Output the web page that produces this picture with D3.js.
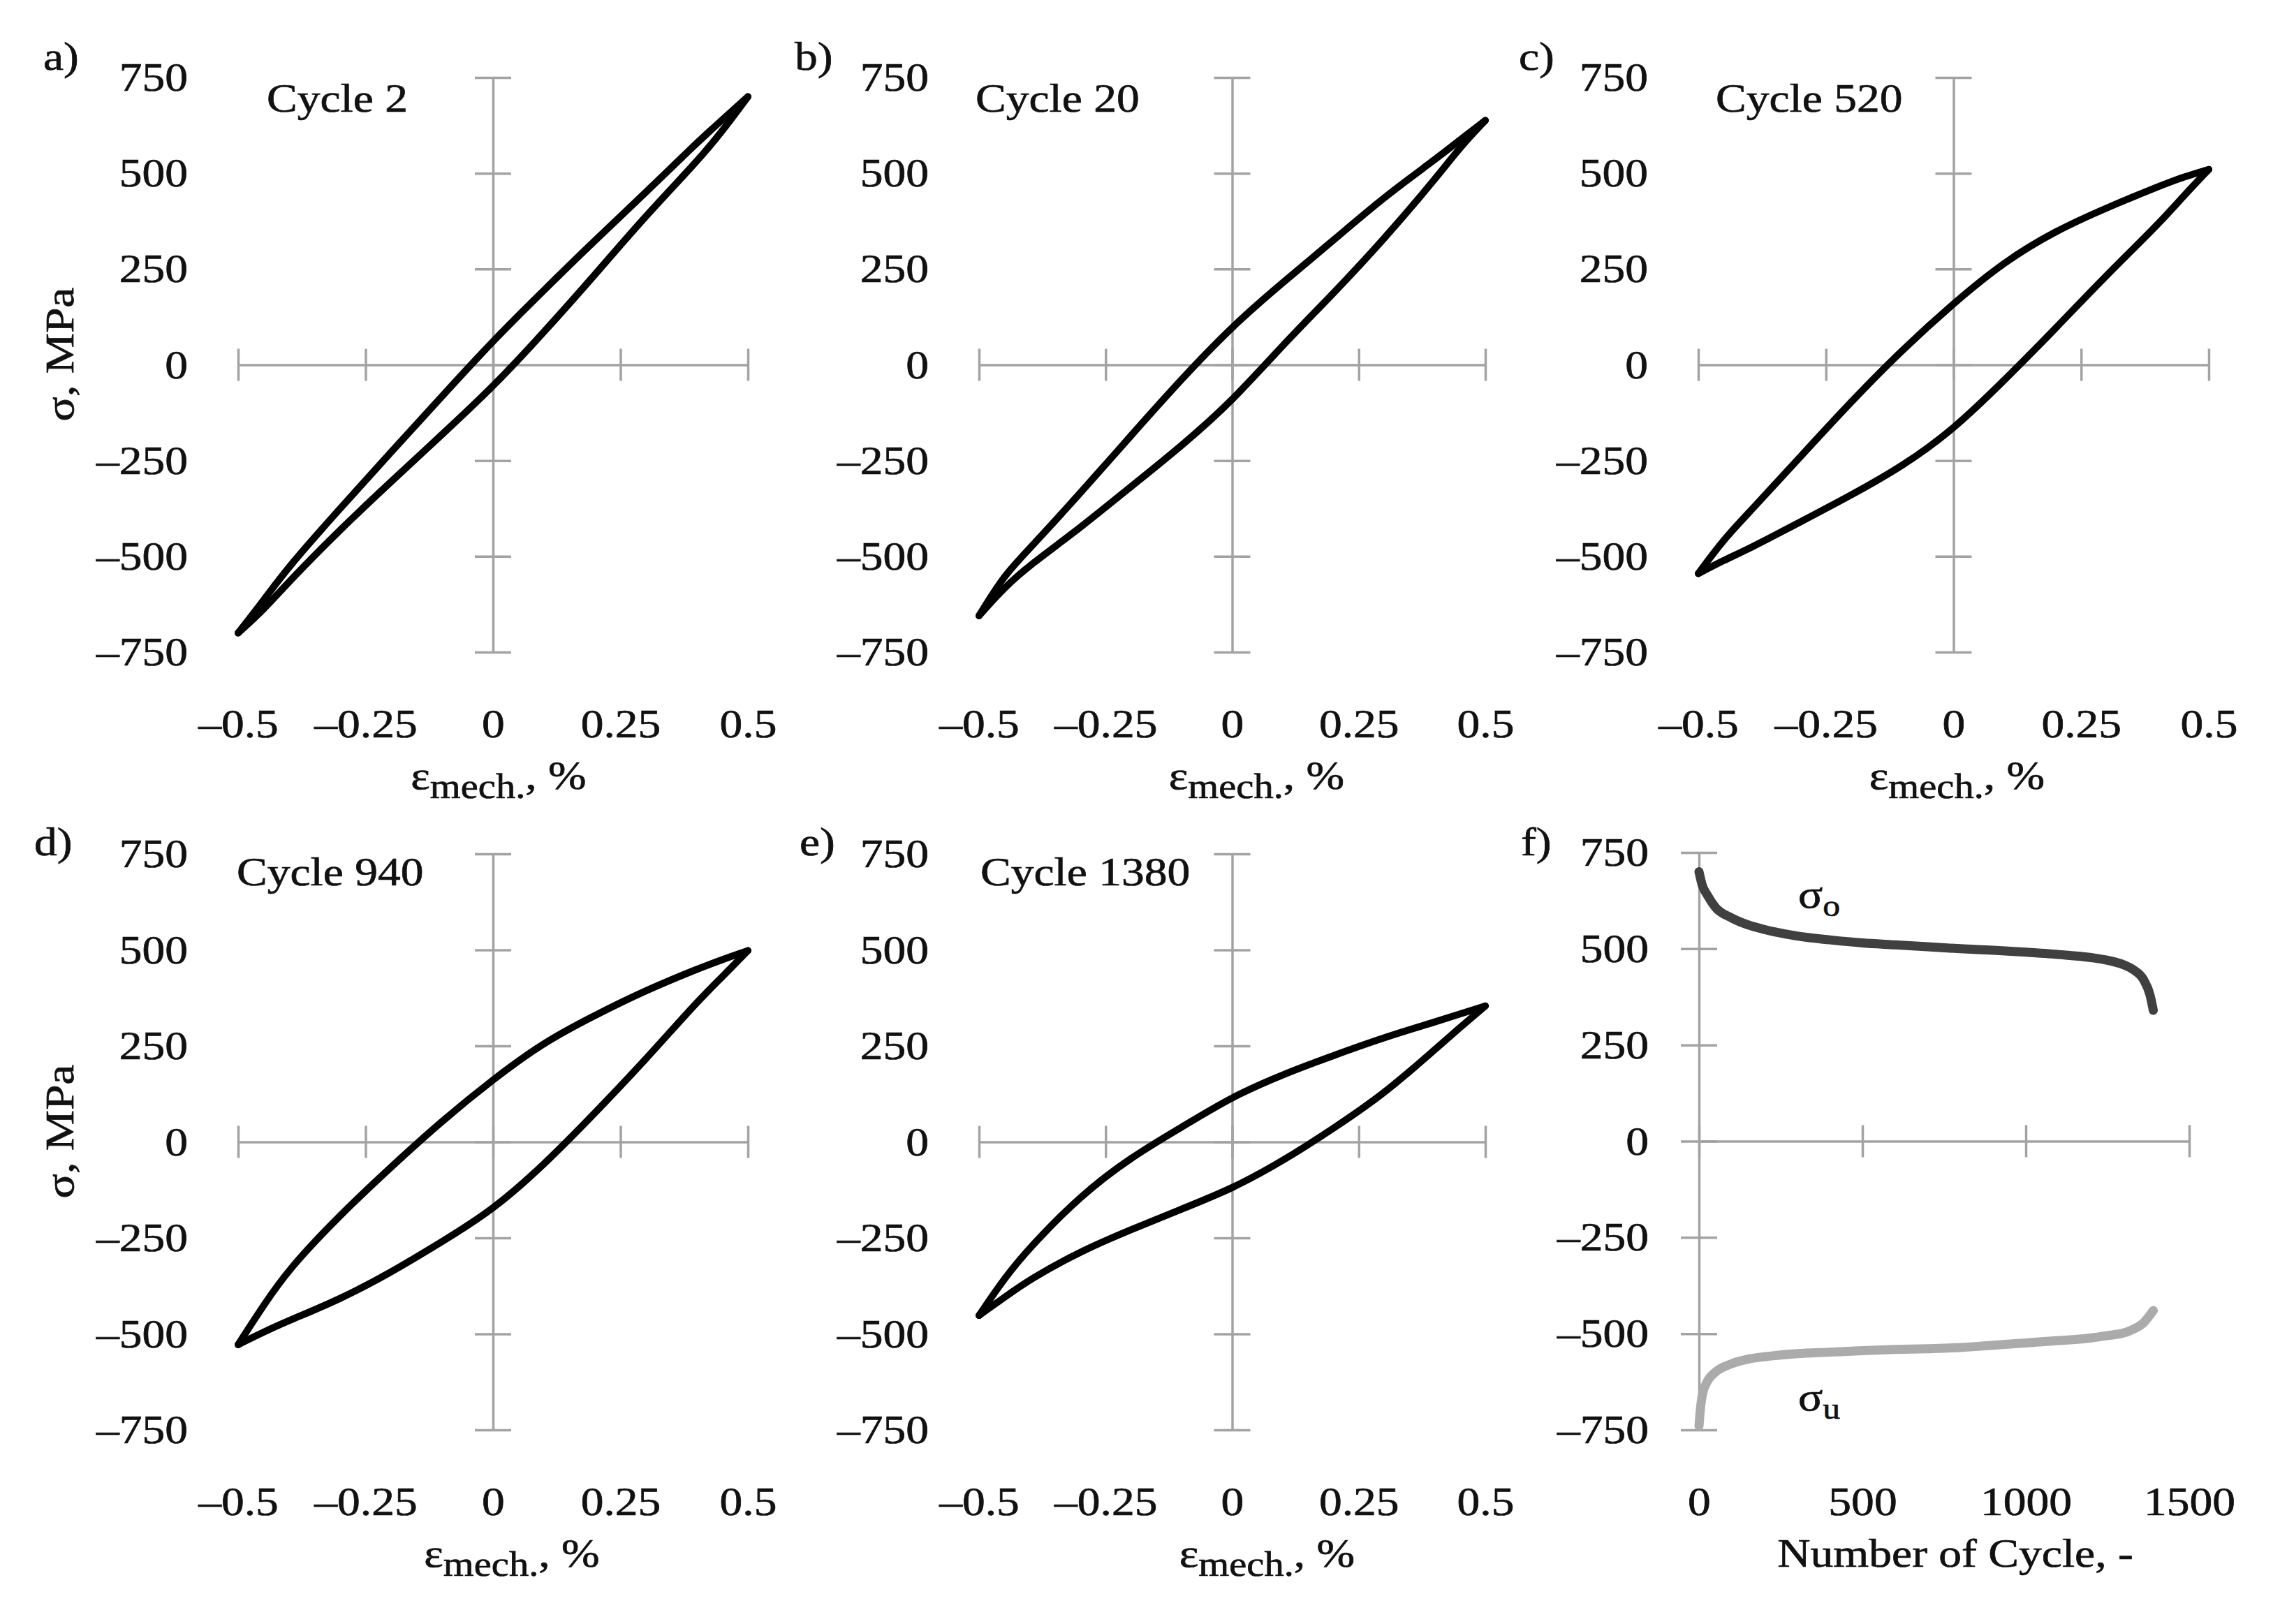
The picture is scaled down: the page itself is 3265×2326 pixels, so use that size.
<!DOCTYPE html>
<html>
<head>
<meta charset="utf-8">
<script src="https://cdn.jsdelivr.net/npm/d3@7"></script>
<style>
  body { margin: 0; background: #fff; }
  svg { display: block; }
</style>
</head>
<body>
<svg id="chart" width="3265" height="2326"></svg>
<script>
// strain grid (%) shared by all hysteresis loops
var strainPts = [-0.5, -0.45, -0.4, -0.3, -0.2, -0.1, 0, 0.1, 0.2, 0.3, 0.4, 0.45, 0.5];

// stress (MPa) on loading branch (min -> max) and unloading branch, per cycle
var cycle2Upper    = [-700, -615, -525, -375, -228, -82, 63, 195, 325, 450, 580, 640, 700];
var cycle2Lower    = [-700, -640, -565, -430, -305, -182, -58, 85, 235, 390, 530, 610, 700];
var cycle20Upper   = [-655, -548, -480, -335, -185, -37, 101, 215, 325, 438, 535, 587, 638];
var cycle20Lower   = [-655, -581, -523, -426, -318, -212, -95, 52, 186, 328, 483, 568, 638];
var cycle520Upper  = [-545, -455, -385, -240, -95, 40, 161, 270, 350, 410, 465, 490, 510];
var cycle520Lower  = [-545, -510, -480, -410, -340, -265, -169, -40, 95, 235, 365, 440, 510];
var cycle940Upper  = [-528, -425, -330, -190, -65, 55, 163, 260, 330, 395, 450, 475, 498];
var cycle940Lower  = [-528, -495, -465, -410, -340, -260, -177, -60, 75, 215, 365, 430, 498];
var cycle1380Upper = [-452, -355, -275, -140, -40, 38, 118, 176, 225, 272, 312, 333, 354];
var cycle1380Lower = [-452, -405, -358, -285, -228, -175, -122, -50, 35, 125, 240, 298, 354];

// panel f: peak stresses over the test
var cyclesO = [0, 10, 25, 50, 100, 150, 200, 300, 400, 500, 600, 700, 800, 900, 1000, 1100, 1200, 1250, 1300, 1330, 1360, 1380, 1390];
var sigmaO  = [700, 665, 640, 608, 580, 562, 550, 533, 523, 515, 510, 505, 500, 496, 491, 485, 477, 470, 458, 445, 420, 380, 340];
var cyclesU = [0, 5, 10, 25, 50, 100, 150, 200, 300, 400, 500, 600, 700, 800, 900, 1000, 1100, 1200, 1250, 1300, 1330, 1360, 1390];
var sigmaU  = [-740, -690, -660, -625, -600, -578, -566, -560, -552, -548, -544, -541, -539, -536, -530, -524, -518, -511, -505, -498, -488, -472, -440];

var strainTicks = [-0.5, -0.25, 0, 0.25, 0.5];
var stressTicks = [750, 500, 250, 0, -250, -500, -750];
var cycleTicks = [0, 500, 1000, 1500];

var svg = d3.select('#chart');
var FONT = "'Liberation Serif', 'Times New Roman', serif";
var FS = 58, SX = 1.13, AXIS = '#a3a3a3', INK = '#111';

var cols = [[341, 1071], [1402, 2127], [2432, 3163]];
// [bottom, top] pixel of each row's stress axis
var rows = [[934, 111], [2048, 1223]];

var panels = [
	{ letter: 'a)', lx: 62,   cycle: 'Cycle 2',    cx: 382,  col: 0, row: 0, up: cycle2Upper,    low: cycle2Lower,    tdx: 8 },
	{ letter: 'b)', lx: 1138, cycle: 'Cycle 20',   cx: 1397, col: 1, row: 0, up: cycle20Upper,   low: cycle20Lower,   tdx: 35 },
	{ letter: 'c)', lx: 2175, cycle: 'Cycle 520',  cx: 2457, col: 2, row: 0, up: cycle520Upper,  low: cycle520Lower,  tdx: 5 },
	{ letter: 'd)', lx: 49,   cycle: 'Cycle 940',  cx: 339,  col: 0, row: 1, up: cycle940Upper,  low: cycle940Lower,  tdx: 27 },
	{ letter: 'e)', lx: 1145, cycle: 'Cycle 1380', cx: 1404, col: 1, row: 1, up: cycle1380Upper, low: cycle1380Lower, tdx: 50 }
];
var letterBase = [100, 1225];
var cycleBase = [160, 1268];

function fmt(d) {
	return d < 0 ? '\u2013' + Math.abs(d) : String(d);
}

function ink(sel) {
	// Palatino in the original is heavier than Liberation Serif
	return sel.attr('fill', INK).attr('stroke', INK).attr('stroke-width', 0.7);
}

function txt(parent, x, y, str, anchor) {
	return ink(parent.append('text')
		.attr('transform', 'translate(' + x + ',' + y + ') scale(' + SX + ',1)')
		.attr('text-anchor', anchor || 'start')
		.attr('font-family', FONT)
		.attr('font-size', FS)
		.text(str));
}

function styleAxis(a) {
	a.selectAll('path, line')
		.attr('stroke', AXIS)
		.attr('stroke-width', 3.5);
}

function crossAxes(g, x, y, xTicks, yTicks, xZero) {
	var ya = g.append('g')
		.attr('transform', 'translate(' + x(xZero) + ',0)')
		.call(d3.axisLeft(y).tickValues(yTicks).tickSize(26).tickSizeOuter(0).tickFormat(''));
	ya.selectAll('.tick line').attr('x1', 26);
	styleAxis(ya);

	var xa = g.append('g')
		.attr('transform', 'translate(0,' + y(0) + ')')
		.call(d3.axisBottom(x).tickValues(xTicks).tickSize(23).tickSizeOuter(0).tickFormat(''));
	xa.selectAll('.tick line').attr('y1', -23);
	styleAxis(xa);
}

function tickLabels(g, x, y, xTicks, yTicks) {
	var ly = g.append('g')
		.attr('transform', 'translate(' + (x.range()[0] - 72) + ',0)')
		.call(d3.axisLeft(y).tickValues(yTicks).tickSize(0).tickPadding(0).tickFormat(fmt));
	var lx = g.append('g')
		.attr('transform', 'translate(0,' + (y.range()[0] + 81) + ')')
		.call(d3.axisBottom(x).tickValues(xTicks).tickSize(0).tickPadding(0).tickFormat(fmt));

	[ly, lx].forEach(function (a) {
		a.select('.domain').remove();
		a.attr('font-family', FONT).attr('font-size', FS);
		ink(a.selectAll('text').attr('transform', 'scale(' + SX + ',1)'));
	});
}

function yTitle(g, y) {
	ink(g.append('text')
		.attr('transform', 'translate(105,' + (y(0) - 15) + ') rotate(-90) scale(' + SX + ',1)')
		.attr('text-anchor', 'middle')
		.attr('font-family', FONT)
		.attr('font-size', FS)
		.text('\u03c3, MPa'));
}

panels.forEach(function (p) {
	var g = svg.append('g');
	var x = d3.scaleLinear().domain([-0.5, 0.5]).range(cols[p.col]);
	var y = d3.scaleLinear().domain([-750, 750]).range(rows[p.row]);

	crossAxes(g, x, y, strainTicks, stressTicks, 0);
	tickLabels(g, x, y, strainTicks, stressTicks);

	var line = d3.line()
		.x(function (d) { return x(d[0]); })
		.y(function (d) { return y(d[1]); })
		.curve(d3.curveBasis);

	var upper = strainPts.map(function (s, i) { return [s, p.up[i]]; });
	var lower = strainPts.map(function (s, i) { return [s, p.low[i]]; });

	[upper, lower].forEach(function (branch) {
		g.append('path')
			.attr('d', line(branch))
			.attr('fill', 'none')
			.attr('stroke', '#000')
			.attr('stroke-width', 10)
			.attr('stroke-linecap', 'round')
			.attr('stroke-linejoin', 'round');
	});

	txt(g, p.lx, letterBase[p.row], p.letter);
	txt(g, p.cx, cycleBase[p.row], p.cycle);

	// strain axis title
	var t = txt(g, x(0) + p.tdx, y.range()[0] + 196, '', 'middle');
	t.append('tspan').text('\u03b5');
	t.append('tspan').attr('font-size', 50).attr('dy', 13).text('mech.');
	t.append('tspan').attr('dy', -13).text(', %');

	if (p.col === 0) yTitle(g, y);
});

// panel f
(function () {
	var g = svg.append('g');
	var x = d3.scaleLinear().domain([0, 1500]).range([2433, 3135]);
	var y = d3.scaleLinear().domain([-750, 750]).range([2048, 1221]);

	crossAxes(g, x, y, cycleTicks, stressTicks, 0);
	tickLabels(g, x, y, cycleTicks, stressTicks);

	var line = d3.line()
		.x(function (d) { return x(d[0]); })
		.y(function (d) { return y(d[1]); })
		.curve(d3.curveMonotoneX);

	g.append('path')
		.attr('d', line(cyclesO.map(function (c, i) { return [c, sigmaO[i]]; })))
		.attr('fill', 'none')
		.attr('stroke', '#404040')
		.attr('stroke-width', 13)
		.attr('stroke-linecap', 'round');

	g.append('path')
		.attr('d', line(cyclesU.map(function (c, i) { return [c, sigmaU[i]]; })))
		.attr('fill', 'none')
		.attr('stroke', '#ababab')
		.attr('stroke-width', 13)
		.attr('stroke-linecap', 'round');

	txt(g, 2178, 1225, 'f)');

	var so = txt(g, 2575, 1300, '\u03c3');
	so.append('tspan').attr('font-size', 44).attr('dy', 12).text('o');
	var su = txt(g, 2575, 2020, '\u03c3');
	su.append('tspan').attr('font-size', 44).attr('dy', 12).text('u');

	txt(g, x(750) + 16, 2244, 'Number of Cycle, -', 'middle');
})();
</script>
</body>
</html>
